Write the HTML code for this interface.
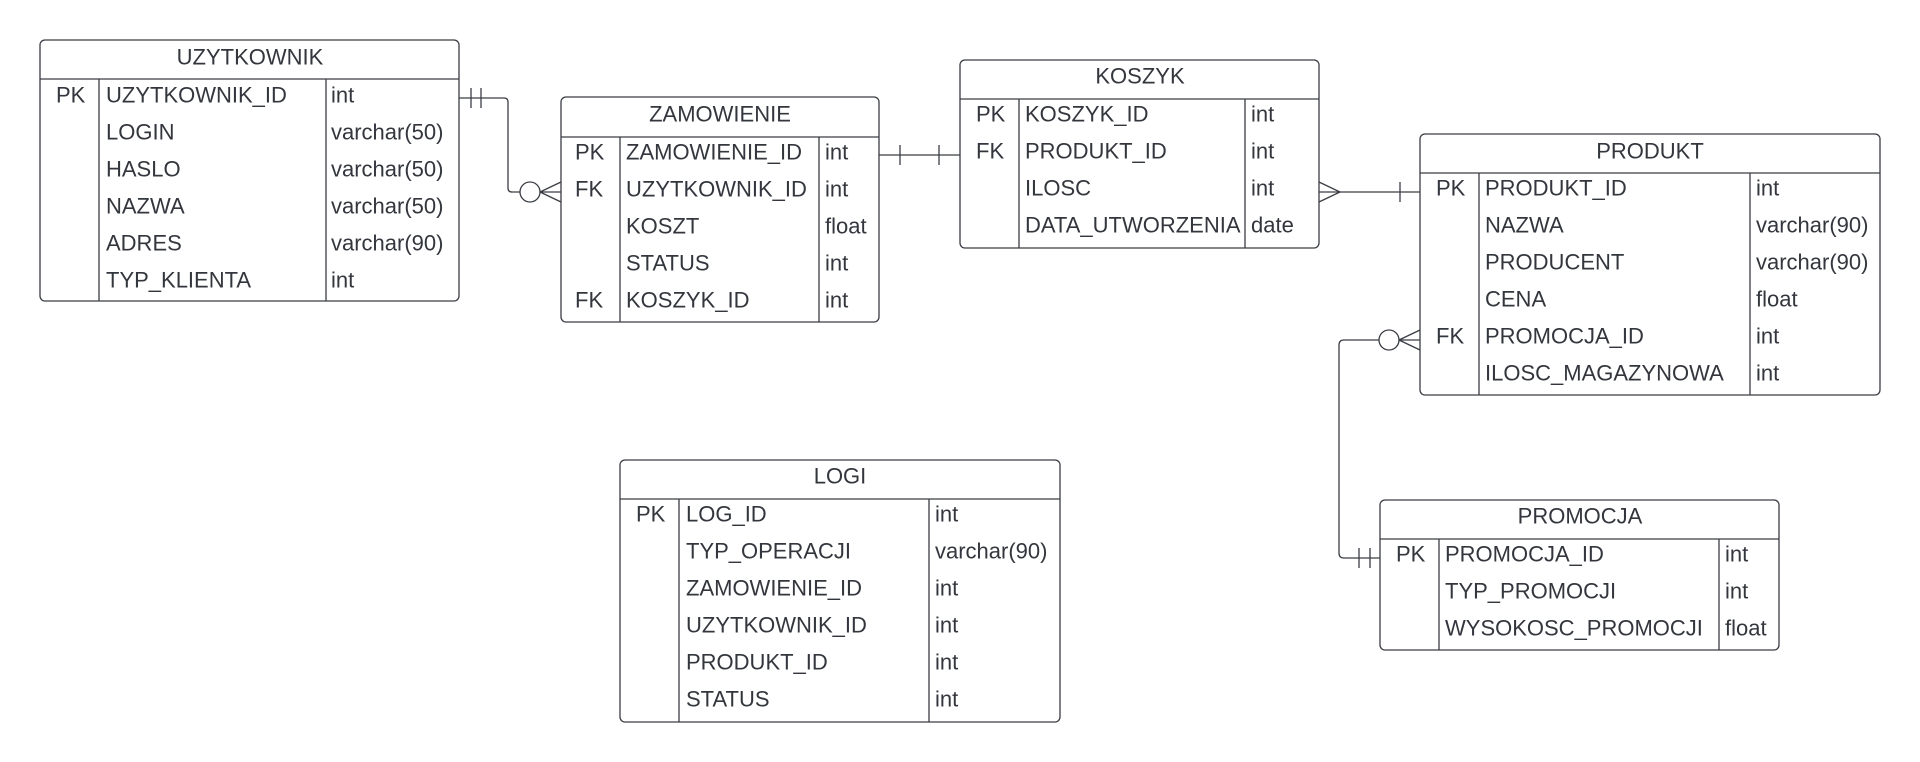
<!DOCTYPE html>
<html><head><meta charset="utf-8"><style>
html,body{margin:0;padding:0;background:#fff;}
svg{display:block;}
text{font-family:"Liberation Sans",sans-serif;font-size:22px;fill:#33363d;}
.t{text-anchor:middle;}
rect,line,path,circle{stroke:#3a3d44;stroke-width:1.3;fill:none;}
</style></head><body>
<svg width="1920" height="762" viewBox="0 0 1920 762">
<g transform="translate(0,-1.5)">
<text class="t" x="250" y="66">UZYTKOWNIK</text>
<text x="56" y="104">PK</text><text x="106" y="104">UZYTKOWNIK_ID</text><text x="331" y="104">int</text>
<text x="106" y="141">LOGIN</text><text x="331" y="141">varchar(50)</text>
<text x="106" y="178">HASLO</text><text x="331" y="178">varchar(50)</text>
<text x="106" y="215">NAZWA</text><text x="331" y="215">varchar(50)</text>
<text x="106" y="252">ADRES</text><text x="331" y="252">varchar(90)</text>
<text x="106" y="289">TYP_KLIENTA</text><text x="331" y="289">int</text>
<text class="t" x="720" y="123">ZAMOWIENIE</text>
<text x="575" y="161">PK</text><text x="626" y="161">ZAMOWIENIE_ID</text><text x="825" y="161">int</text>
<text x="575" y="198">FK</text><text x="626" y="198">UZYTKOWNIK_ID</text><text x="825" y="198">int</text>
<text x="626" y="235">KOSZT</text><text x="825" y="235">float</text>
<text x="626" y="272">STATUS</text><text x="825" y="272">int</text>
<text x="575" y="309">FK</text><text x="626" y="309">KOSZYK_ID</text><text x="825" y="309">int</text>
<text class="t" x="1140" y="85">KOSZYK</text>
<text x="976" y="123">PK</text><text x="1025" y="123">KOSZYK_ID</text><text x="1251" y="123">int</text>
<text x="976" y="160">FK</text><text x="1025" y="160">PRODUKT_ID</text><text x="1251" y="160">int</text>
<text x="1025" y="197">ILOSC</text><text x="1251" y="197">int</text>
<text x="1025" y="234">DATA_UTWORZENIA</text><text x="1251" y="234">date</text>
<text class="t" x="1650" y="160">PRODUKT</text>
<text x="1436" y="197">PK</text><text x="1485" y="197">PRODUKT_ID</text><text x="1756" y="197">int</text>
<text x="1485" y="234">NAZWA</text><text x="1756" y="234">varchar(90)</text>
<text x="1485" y="271">PRODUCENT</text><text x="1756" y="271">varchar(90)</text>
<text x="1485" y="308">CENA</text><text x="1756" y="308">float</text>
<text x="1436" y="345">FK</text><text x="1485" y="345">PROMOCJA_ID</text><text x="1756" y="345">int</text>
<text x="1485" y="382">ILOSC_MAGAZYNOWA</text><text x="1756" y="382">int</text>
<text class="t" x="1580" y="525">PROMOCJA</text>
<text x="1396" y="563">PK</text><text x="1445" y="563">PROMOCJA_ID</text><text x="1725" y="563">int</text>
<text x="1445" y="600">TYP_PROMOCJI</text><text x="1725" y="600">int</text>
<text x="1445" y="637">WYSOKOSC_PROMOCJI</text><text x="1725" y="637">float</text>
<text class="t" x="840" y="485">LOGI</text>
<text x="636" y="523">PK</text><text x="686" y="523">LOG_ID</text><text x="935" y="523">int</text>
<text x="686" y="560">TYP_OPERACJI</text><text x="935" y="560">varchar(90)</text>
<text x="686" y="597">ZAMOWIENIE_ID</text><text x="935" y="597">int</text>
<text x="686" y="634">UZYTKOWNIK_ID</text><text x="935" y="634">int</text>
<text x="686" y="671">PRODUKT_ID</text><text x="935" y="671">int</text>
<text x="686" y="708">STATUS</text><text x="935" y="708">int</text>
</g>
<rect x="40" y="40" width="419" height="261" rx="5"/>
<line x1="40" y1="79" x2="459" y2="79"/><line x1="99" y1="79" x2="99" y2="301"/><line x1="326" y1="79" x2="326" y2="301"/>
<rect x="561" y="97" width="318" height="225" rx="5"/>
<line x1="561" y1="137" x2="879" y2="137"/><line x1="620" y1="137" x2="620" y2="322"/><line x1="819" y1="137" x2="819" y2="322"/>
<rect x="960" y="60" width="359" height="188" rx="5"/>
<line x1="960" y1="99" x2="1319" y2="99"/><line x1="1019" y1="99" x2="1019" y2="248"/><line x1="1245" y1="99" x2="1245" y2="248"/>
<rect x="1420" y="134" width="460" height="261" rx="5"/>
<line x1="1420" y1="173" x2="1880" y2="173"/><line x1="1479" y1="173" x2="1479" y2="395"/><line x1="1750" y1="173" x2="1750" y2="395"/>
<rect x="1380" y="500" width="399" height="150" rx="5"/>
<line x1="1380" y1="539" x2="1779" y2="539"/><line x1="1439" y1="539" x2="1439" y2="650"/><line x1="1719" y1="539" x2="1719" y2="650"/>
<rect x="620" y="460" width="440" height="262" rx="5"/>
<line x1="620" y1="499" x2="1060" y2="499"/><line x1="679" y1="499" x2="679" y2="722"/><line x1="929" y1="499" x2="929" y2="722"/>
<path d="M459 98 H504 Q508 98 508 102 V188 Q508 192 512 192 H520"/>
<line x1="471" y1="88" x2="471" y2="108"/><line x1="481" y1="88" x2="481" y2="108"/>
<circle cx="530" cy="192" r="10"/>
<path d="M540 192 H561 M540 192 L561 182 M540 192 L561 202"/>
<line x1="879" y1="155" x2="960" y2="155"/>
<line x1="900" y1="145" x2="900" y2="165"/><line x1="939" y1="145" x2="939" y2="165"/>
<line x1="1319" y1="192" x2="1420" y2="192"/>
<path d="M1319 182 L1340 192 L1319 202"/>
<line x1="1400" y1="182" x2="1400" y2="202"/>
<path d="M1380 558 H1344 Q1339 558 1339 553 V345 Q1339 340 1344 340 H1379"/>
<line x1="1359" y1="548" x2="1359" y2="568"/><line x1="1370" y1="548" x2="1370" y2="568"/>
<circle cx="1389" cy="340" r="10"/>
<path d="M1399 340 H1420 M1399 340 L1420 330 M1399 340 L1420 350"/>
</svg>
</body></html>
